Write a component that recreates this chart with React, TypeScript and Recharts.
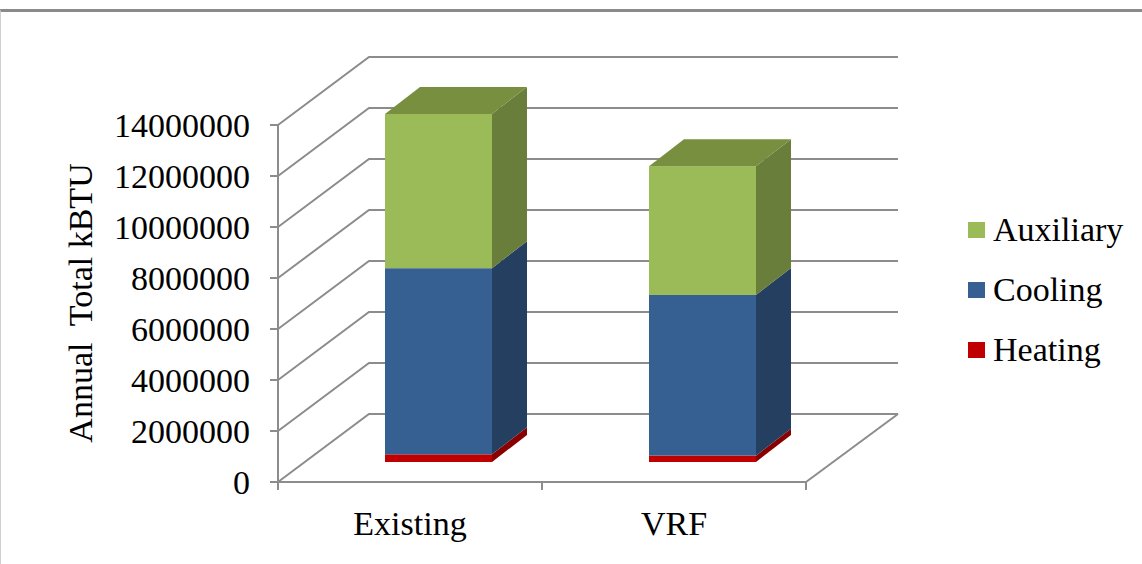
import { BarChart, Bar, XAxis, YAxis, CartesianGrid, Legend } from 'recharts';

// values (kBTU)
const categories = ['Existing', 'VRF'];
const heating = [300000, 250000];
const cooling = [7300000, 6300000];
const auxiliary = [6050000, 5050000];
const valueTicks = [0, 2000000, 4000000, 6000000, 8000000, 10000000, 12000000, 14000000];

const data = categories.map((name, i) => ({
  name,
  heating: heating[i],
  cooling: cooling[i],
  auxiliary: auxiliary[i],
}));

const W = 1142;
const H = 564;
const PLOT_LEFT = 278;
const PLOT_RIGHT = 806;
const PLOT_TOP = 125;
const PLOT_BOTTOM = 482;
const BAND = (PLOT_RIGHT - PLOT_LEFT) / categories.length;

// oblique 3D offsets
const WALL_DX = 91;
const WALL_DY = -68;
const BAR_SHIFT_X = 28;
const BAR_SHIFT_Y = -20;
const BAR_DX = 35;
const BAR_DY = -27;

const FONT = "'Liberation Serif', Tinos, 'Times New Roman', 'DejaVu Serif', serif";
const FS = 34;
const GRID = '#8c8c8c';

const COLORS = {
  auxiliary: { front: '#9bbb59', side: '#687e3a', top: '#788f40' },
  cooling: { front: '#376092', side: '#243f60', top: '#2c4d75' },
  heating: { front: '#c00000', side: '#8a0000', top: '#a00000' },
};

function Box3D(props: any) {
  const { x, y, width, height, colors, showTop } = props;
  if (!width || height == null) return null;
  const X = x + BAR_SHIFT_X;
  const Y = y + BAR_SHIFT_Y;
  const w = width;
  const h = height;
  return (
    <g>
      <rect x={X} y={Y} width={w} height={h} fill={colors.front} />
      <polygon
        points={`${X + w},${Y + h} ${X + w + BAR_DX},${Y + h + BAR_DY} ${X + w + BAR_DX},${Y + BAR_DY} ${X + w},${Y}`}
        fill={colors.side}
      />
      {showTop && (
        <polygon
          points={`${X},${Y} ${X + BAR_DX},${Y + BAR_DY} ${X + w + BAR_DX},${Y + BAR_DY} ${X + w},${Y}`}
          fill={colors.top}
        />
      )}
    </g>
  );
}

function GridLine(props: any) {
  const { x1, x2, y1 } = props;
  const bx1 = x1 + WALL_DX;
  const bx2 = x2 + WALL_DX + 1;
  const by = y1 + WALL_DY;
  const isFloor = Math.abs(y1 - PLOT_BOTTOM) < 1.5;
  return (
    <g>
      <path d={`M${x1},${y1} L${bx1},${by} L${bx2},${by}`} stroke={GRID} strokeWidth={2} fill="none" />
      {isFloor && <path d={`M${x2},${y1} L${bx2},${by}`} stroke={GRID} strokeWidth={2} fill="none" />}
    </g>
  );
}

function CategoryTick(props: any) {
  const { x, payload, index } = props;
  const half = BAND / 2;
  return (
    <g>
      {index === 0 && (
        <line x1={x - half} y1={PLOT_BOTTOM} x2={x - half} y2={PLOT_BOTTOM + 8} stroke={GRID} strokeWidth={2} />
      )}
      <line x1={x + half} y1={PLOT_BOTTOM} x2={x + half} y2={PLOT_BOTTOM + 8} stroke={GRID} strokeWidth={2} />
      <text x={x} y={PLOT_BOTTOM + 41} textAnchor="middle" dominantBaseline="central" fontSize={FS} style={{ fontFamily: FONT }} fill="#000">
        {payload.value}
      </text>
    </g>
  );
}

function ValueTick(props: any) {
  const { x, y, payload } = props;
  return (
    <text x={x} y={y} textAnchor="end" dominantBaseline="central" fontSize={FS} style={{ fontFamily: FONT }} fill="#000">
      {String(payload.value)}
    </text>
  );
}

const legendItems = [
  { label: 'Auxiliary', color: COLORS.auxiliary.front },
  { label: 'Cooling', color: COLORS.cooling.front },
  { label: 'Heating', color: COLORS.heating.front },
];

function LegendBox() {
  return (
    <div style={{ fontFamily: FONT, fontSize: FS, color: '#000' }}>
      {legendItems.map((it) => (
        <div key={it.label} style={{ display: 'flex', alignItems: 'center', height: 60 }}>
          <span style={{ width: 17, height: 16, background: it.color, marginRight: 8, display: 'inline-block' }} />
          <span>{it.label}</span>
        </div>
      ))}
    </div>
  );
}

export default function App() {
  return (
    <div style={{ position: 'absolute', left: 0, top: 0, width: W, height: H, background: '#fff' }}>
      <div
        style={{
          position: 'absolute',
          left: 0,
          top: 9,
          width: W,
          height: H - 9,
          borderTop: '3px solid #8a8a8a',
          borderLeft: '1px solid #cfcfcf',
          boxSizing: 'border-box',
        }}
      />
      <BarChart
        width={W}
        height={H}
        data={data}
        margin={{ top: PLOT_TOP, right: W - PLOT_RIGHT, bottom: H - PLOT_BOTTOM - 40, left: PLOT_LEFT - 200 }}
        barSize={107}
      >
        <CartesianGrid vertical={false} horizontal={(p: any) => <GridLine key={p.key} {...p} />} />
        <XAxis
          dataKey="name"
          height={40}
          tickLine={false}
          axisLine={{ stroke: GRID, strokeWidth: 2 }}
          tick={(p: any) => <CategoryTick {...p} />}
        />
        <YAxis
          width={200}
          domain={[0, 14000000]}
          ticks={valueTicks}
          interval={0}
          tickSize={8}
          tickMargin={20}
          axisLine={{ stroke: GRID, strokeWidth: 2 }}
          tickLine={{ stroke: GRID, strokeWidth: 2 }}
          tick={(p: any) => <ValueTick {...p} />}
          label={{
            content: () => (
              <text
                x={80}
                y={303}
                transform="rotate(-90 80 303)"
                textAnchor="middle"
                dominantBaseline="central"
                fontSize={FS}
                fill="#000"
                style={{ whiteSpace: 'pre', fontFamily: FONT }}
              >
                {'Annual  Total kBTU'}
              </text>
            ),
          }}
        />
        <Bar
          dataKey="heating"
          stackId="a"
          isAnimationActive={false}
          fill={COLORS.heating.front}
          shape={(p: any) => <Box3D {...p} colors={COLORS.heating} showTop={false} />}
        />
        <Bar
          dataKey="cooling"
          stackId="a"
          isAnimationActive={false}
          fill={COLORS.cooling.front}
          shape={(p: any) => <Box3D {...p} colors={COLORS.cooling} showTop={false} />}
        />
        <Bar
          dataKey="auxiliary"
          stackId="a"
          isAnimationActive={false}
          fill={COLORS.auxiliary.front}
          shape={(p: any) => <Box3D {...p} colors={COLORS.auxiliary} showTop={true} />}
        />
        <Legend
          layout="vertical"
          align="center"
          verticalAlign="middle"
          content={() => <LegendBox />}
          wrapperStyle={{ left: 968, top: 200, width: 174 }}
        />
      </BarChart>
    </div>
  );
}
